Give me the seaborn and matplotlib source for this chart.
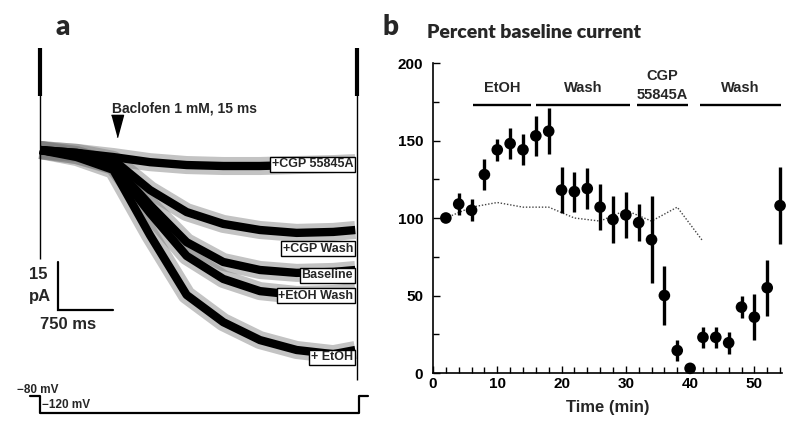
import matplotlib
matplotlib.use("Agg")
import matplotlib.pyplot as plt
import seaborn as sns
import numpy as np
import pandas as pd

# ---------------- data: panel a (whole-cell current traces) ----------------
trace_t_ms = [0, 500, 1000, 1500, 2000, 2500, 3000, 3500, 4000, 4300]
trace_cgp55845a = [0, -0.9, -2.2, -3.8, -4.7, -5.0, -5.0, -4.7, -4.4, -4.1]
trace_cgp_wash = [0, -0.9, -3.1, -12.5, -19.4, -23.1, -25.0, -25.9, -25.6, -25.0]
trace_baseline = [0, -1.6, -4.7, -17.2, -28.8, -35.0, -37.5, -38.4, -38.1, -37.5]
trace_etoh_wash = [0, -1.6, -5.0, -19.7, -33.1, -40.3, -44.1, -45.3, -45.0, -44.4]
trace_etoh = [0, -2.2, -6.2, -26.6, -45.3, -53.8, -59.4, -62.5, -63.8, -62.5]
trace_names = ["+CGP 55845A", "+CGP Wash", "Baseline", "+EtOH Wash", "+ EtOH"]
trace_label_pA = [-4.4, -30.8, -39.2, -45.5, -64.8]

transient_t_ms = [0, 4320]
transient_top_pA = [32, 32]
transient_bottom_pA = [-34, -72]

baclofen_t_ms = 1050
volt_t_ms = [-136, 0, 0, 4350, 4350, 4474]
volt_mV = [-80, -80, -120, -120, -80, -80]

# ---------------- data: panel b (percent baseline current) ----------------
time_min = [2, 4, 6, 8, 10, 12, 14, 16, 18, 20, 22, 24, 26, 28, 30, 32, 34,
            36, 38, 40, 42, 44, 46, 48, 50, 52, 54]
pct_current = [100, 109, 105, 128, 144, 148, 144, 153, 156, 118, 117, 119, 107,
               99, 102, 97, 86, 50, 14.5, 3, 23, 23, 19.5, 42.5, 36, 55, 108]
pct_sem = [2, 7, 7, 10, 7, 10, 10, 13, 15, 15, 13, 13, 15, 15, 15, 12, 28, 19,
           7, 1, 7, 7, 7, 7, 15, 18, 25]
control_time = [2, 6, 10, 14, 18, 22, 26, 30, 34, 38, 42]
control_pct = [100, 107, 110, 107, 107, 100, 98, 105, 98, 107, 85]

bar_labels = ["EtOH", "Wash", "CGP\n55845A", "Wash"]
bar_start = [6.2, 16.1, 31.8, 41.5]
bar_end = [15.3, 30.7, 39.6, 54.1]
bar_level = 173
label_level = [184, 184, 185.5, 184]

# ---------------- figure ----------------
sns.set_theme(style="ticks")
plt.rcParams["font.family"] = ["Liberation Sans", "DejaVu Sans"]
plt.rcParams["font.weight"] = "bold"

W, H = 788, 423
fig = plt.figure(figsize=(W / 100, H / 100), dpi=100)
fig.patch.set_facecolor("white")


def fx(px):
    return px / W


def fy(py):
    return 1 - py / H


# ---- panel a ----
axA = fig.add_axes([0, fy(390), fx(400), 350 / H])
axA.set_xlim(-545.6, 4910)
axA.set_ylim(-75, 34.375)
axA.axis("off")

traces = [trace_cgp55845a, trace_cgp_wash, trace_baseline, trace_etoh_wash, trace_etoh]
df_tr = pd.DataFrame({
    "t": trace_t_ms * len(traces),
    "I": sum(traces, []),
    "cond": sum([[n] * len(trace_t_ms) for n in trace_names], []),
})
for name in trace_names:
    sub = df_tr[df_tr["cond"] == name]
    axA.plot(sub["t"], sub["I"], color="#7a7a7a", lw=13, alpha=0.45,
             solid_capstyle="butt", zorder=2)
sns.lineplot(data=df_tr, x="t", y="I", units="cond", estimator=None,
             color="black", lw=6.0, ax=axA, legend=False, zorder=3,
             solid_capstyle="butt")
axA.set_xlabel("")
axA.set_ylabel("")
axA.axis("off")

for t, top, bot in zip(transient_t_ms, transient_top_pA, transient_bottom_pA):
    axA.vlines(t, bot, top, color="black", lw=1.0, zorder=3)
    axA.vlines(t, top - 15, top, color="black", lw=3.0, zorder=3)

for name, yv in zip(trace_names, trace_label_pA):
    axA.text(4269, yv, name, ha="right", va="center", fontsize=9,
             fontweight="bold", zorder=6,
             bbox=dict(boxstyle="square,pad=0.12", fc="white", ec="black", lw=1))

axA.plot([baclofen_t_ms], [7.5], marker=[(-0.27, 0.5), (0.27, 0.5), (0, -0.5)],
         ms=16, color="black", zorder=5)
axA.text(982, 13.1, "Baclofen 1 mM, 15 ms", ha="left", va="center",
         fontsize=10, fontweight="bold", zorder=5)

# scale bar: 750 ms, 15 pA
axA.plot([241, 241, 241 + 750], [-35, -50, -50], color="black", lw=1.6,
         solid_joinstyle="miter", zorder=4)
axA.text(-150, -38.8, "15", ha="left", va="center", fontsize=12, fontweight="bold")
axA.text(-150, -45.9, "pA", ha="left", va="center", fontsize=12, fontweight="bold")
axA.text(0, -54.4, "750 ms", ha="left", va="center", fontsize=12, fontweight="bold")

# voltage protocol
axV = fig.add_axes([0, fy(415.1), fx(400), 21.2 / H])
axV.set_xlim(-545.6, 4910)
axV.set_ylim(-125, -75)
axV.axis("off")
axV.plot(volt_t_ms, volt_mV, color="black", lw=1.6, solid_joinstyle="round")
axV.text(-314, -66, "\u221280 mV", ha="left", va="center", fontsize=8.5,
         fontweight="bold")
axV.text(27, -101, "\u2212120 mV", ha="left", va="center", fontsize=8.5,
         fontweight="bold")

# ---- panel b ----
axB = fig.add_axes([fx(433), fy(373), fx(782) - fx(433), 310 / H])
axB.set_xlim(0, 54.3)
axB.set_ylim(0, 200)

axB.errorbar(time_min, pct_current, yerr=pct_sem, fmt="none", ecolor="black",
             elinewidth=2.4, capsize=0, zorder=3, clip_on=False)
sns.lineplot(x=control_time, y=control_pct, ax=axB, color="#444444", lw=1.0,
             linestyle=(0, (1, 1.3)), zorder=2)
sns.scatterplot(x=time_min, y=pct_current, ax=axB, s=70, color="black",
                edgecolor="none", zorder=4, clip_on=False)

for lab, s, e, ly in zip(bar_labels, bar_start, bar_end, label_level):
    axB.plot([s, e], [bar_level, bar_level], color="black", lw=1.7,
             solid_capstyle="butt", clip_on=False)
    axB.text((s + e) / 2, ly, lab, ha="center", va="center", fontsize=10.5,
             fontweight="bold", linespacing=1.45)

axB.set_xticks([0, 10, 20, 30, 40, 50])
axB.set_xticks(np.arange(0, 55, 2), minor=True)
axB.set_yticks([0, 50, 100, 150, 200])
axB.set_yticks([25, 75, 125, 175], minor=True)
axB.tick_params(axis="both", which="both", direction="in", width=1.0,
                labelsize=11, colors="black")
axB.tick_params(axis="both", which="major", length=5)
axB.tick_params(axis="both", which="minor", length=4)
axB.tick_params(axis="x", pad=3)
axB.tick_params(axis="y", pad=7)
for lbl in axB.get_xticklabels() + axB.get_yticklabels():
    lbl.set_fontweight("bold")
sns.despine(ax=axB)
for sp in ["left", "bottom"]:
    axB.spines[sp].set_linewidth(1.2)
    axB.spines[sp].set_color("black")
axB.set_xlabel("Time (min)", fontsize=12, fontweight="bold", labelpad=6)
axB.set_ylabel("")

# panel letters and title
fig.text(fx(62.5), fy(35), "a", ha="center", va="baseline", fontsize=20,
         fontweight="heavy", family=["Lato", "DejaVu Sans"])
fig.text(fx(390), fy(35), "b", ha="center", va="baseline", fontsize=20,
         fontweight="heavy", family=["Lato", "DejaVu Sans"])
fig.text(fx(427), fy(38.5), "Percent baseline current", ha="left",
         va="baseline", fontsize=14, fontweight="heavy",
         family=["Lato", "DejaVu Sans"])

fig.savefig("out.png", dpi=100, facecolor="white")
